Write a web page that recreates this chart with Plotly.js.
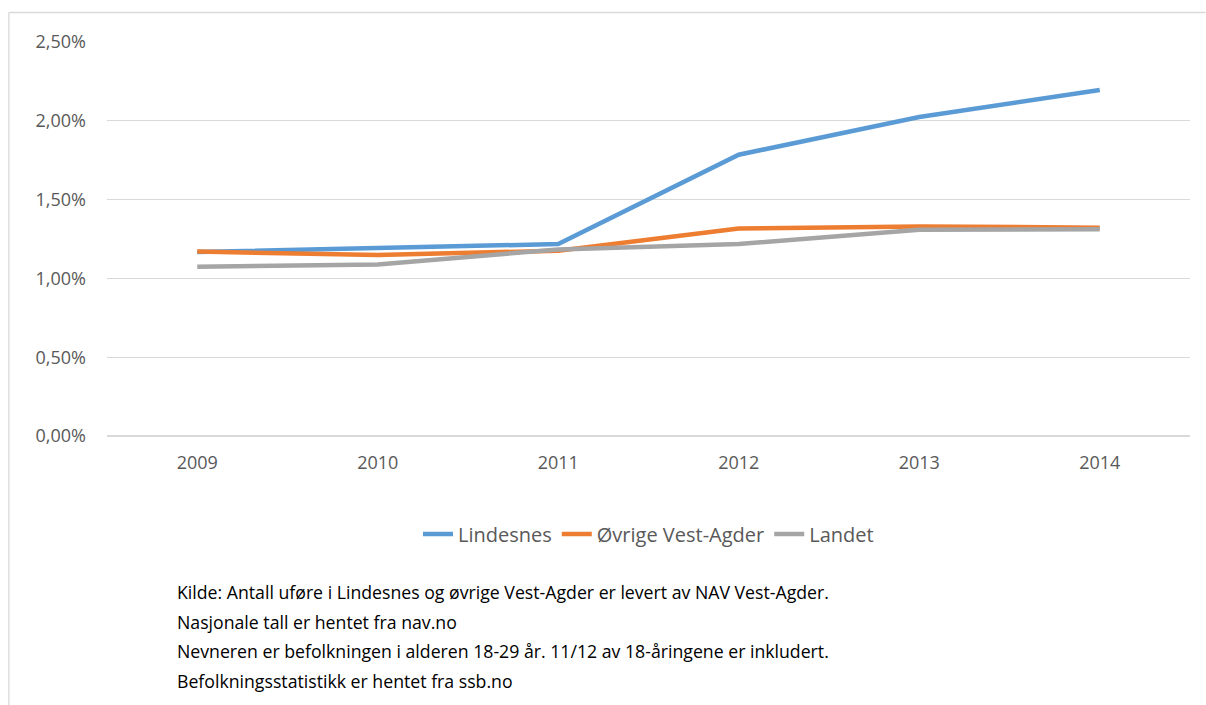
<!DOCTYPE html>
<html>
<head>
<meta charset="utf-8">
<script src="https://cdn.plot.ly/plotly-3.0.1.min.js"></script>
<style>html,body{margin:0;padding:0;background:#fff;}#chart{width:1206px;height:705px;}</style>
</head>
<body>
<div id="chart"></div>
<script>
const years = ["2009", "2010", "2011", "2012", "2013", "2014"];
const lindesnes = [0.01168, 0.01195, 0.01218, 0.01785, 0.02024, 0.02196];
const ovrigeVestAgder = [0.01170, 0.01148, 0.01176, 0.01316, 0.01330, 0.01322];
const landet = [0.01074, 0.01088, 0.01184, 0.01218, 0.01308, 0.01312];
const seriesNames = ["Lindesnes", "Øvrige Vest-Agder", "Landet"];
const seriesColors = ["#5b9bd5", "#ed7d31", "#a5a5a5"];
const footnoteLines = [
  "Kilde: Antall uføre i Lindesnes og øvrige Vest-Agder er levert av NAV Vest-Agder.",
  "Nasjonale tall er hentet fra nav.no",
  "Nevneren er befolkningen i alderen 18-29 år. 11/12 av 18-åringene er inkludert.",
  "Befolkningsstatistikk er hentet fra ssb.no"
];

const values = [lindesnes, ovrigeVestAgder, landet];
const traces = values.map((v, i) => ({
  type: "scatter",
  mode: "lines",
  x: years,
  y: v,
  name: seriesNames[i],
  line: {color: seriesColors[i], width: 4.5},
  hoverinfo: "skip"
}));

const plotL = 106.7, plotR = 1190.3, plotT = 42, plotB = 436;
const W = 1206, H = 705;
const pw = plotR - plotL, ph = plotB - plotT;
const px = x => (x - plotL) / pw;
const py = y => (plotB - y) / ph;

const annotations = footnoteLines.map((t, i) => ({
  xref: "paper", yref: "paper",
  x: px(175), y: py(592 + i * 29.5),
  xanchor: "left", yanchor: "middle",
  text: t, showarrow: false,
  font: {family: "Open Sans", size: 17.7, color: "#000000"}
}));

const layout = {
  width: W, height: H,
  margin: {l: plotL, r: W - plotR, t: plotT, b: H - plotB},
  paper_bgcolor: "#ffffff",
  plot_bgcolor: "#ffffff",
  separators: ",.",
  showlegend: true,
  legend: {
    orientation: "h",
    x: 0.5, xanchor: "center",
    y: py(534), yanchor: "middle",
    font: {family: "Open Sans", size: 20, color: "#595959"},
    itemwidth: 30,
    tracegroupgap: 0
  },
  xaxis: {
    type: "category",
    range: [-0.5, 5.5],
    showgrid: false,
    zeroline: false,
    showline: false,
    ticks: "",
    tickfont: {family: "Open Sans", size: 18, color: "#595959"},
    ticklabelstandoff: 14
  },
  yaxis: {
    range: [0, 0.025],
    dtick: 0.005,
    tick0: 0,
    tickformat: ".2%",
    showgrid: true,
    gridcolor: "#d9d9d9",
    gridwidth: 1.3,
    zeroline: true,
    zerolinecolor: "#d9d9d9",
    zerolinewidth: 1.3,
    showline: false,
    ticks: "",
    ticklabelstandoff: 20,
    tickfont: {family: "Open Sans", size: 18, color: "#595959"}
  },
  shapes: [
    {
      type: "line", xref: "paper", yref: "paper",
      x0: px(8.5), x1: px(8.5), y0: py(705), y1: py(12.5),
      line: {color: "#d9d9d9", width: 1.3},
      layer: "below"
    },
    {
      type: "line", xref: "paper", yref: "paper",
      x0: px(8.5), x1: px(1206), y0: py(12.5), y1: py(12.5),
      line: {color: "#d9d9d9", width: 1.3},
      layer: "below"
    }
  ],
  annotations: annotations
};

Plotly.newPlot("chart", traces, layout, {displayModeBar: false, staticPlot: true});
</script>
</body>
</html>
